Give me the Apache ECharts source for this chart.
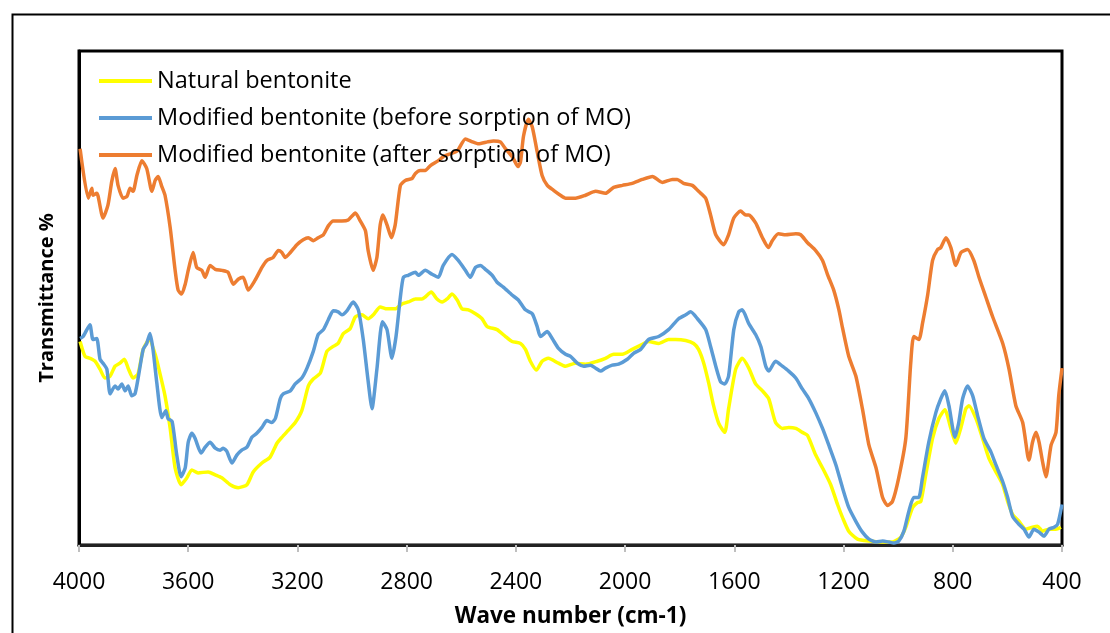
<!DOCTYPE html>
<html>
<head>
<meta charset="utf-8">
<script src="https://cdn.jsdelivr.net/npm/echarts@6/dist/echarts.min.js"></script>
<style>
html,body{margin:0;padding:0;background:#fff;}
#chart{width:1110px;height:633px;}
</style>
</head>
<body>
<div id="chart"></div>
<script>
// Series names
const seriesNames = ["Natural bentonite", "Modified bentonite (before sorption of MO)", "Modified bentonite (after sorption of MO)"];
const xTicks = [4000, 3600, 3200, 2800, 2400, 2000, 1600, 1200, 800, 400];

// Natural bentonite: wavenumber (cm-1) and transmittance (arb. %)
const natWn = [3996,3978,3960,3941,3923,3905,3886,3868,3850,3834,3820,3802,3784,3765,3743,3721,3703,3685,3666,3648,3626,3605,3587,3564,3527,3501,3477,3446,3417,3385,3362,3330,3300,3275,3257,3234,3208,3184,3160,3142,3116,3092,3069,3051,3032,3007,2988,2964,2941,2922,2897,2872,2842,2817,2794,2768,2744,2732,2710,2689,2670,2652,2634,2615,2597,2574,2548,2524,2505,2469,2438,2414,2383,2365,2347,2325,2304,2281,2244,2218,2182,2145,2102,2072,2042,2010,1974,1937,1914,1877,1841,1815,1778,1749,1731,1712,1694,1676,1657,1635,1621,1595,1571,1547,1522,1497,1474,1449,1424,1401,1375,1351,1332,1302,1277,1247,1222,1204,1181,1149,1107,1057,1021,990,972,947,929,917,899,874,851,829,807,789,770,752,741,715,691,668,642,617,599,581,558,532,508,490,471,448,422,404];
const natT = [41.2,38.2,37.8,37.2,35.6,33.8,34.2,36.2,36.8,37.6,35.8,33.8,34.6,39.6,41.6,38.6,34.6,30.2,23.6,15.6,12.2,13.6,15.2,14.6,14.8,14.2,13.6,12.2,11.6,12.2,14.8,16.6,17.8,20.6,21.8,23.2,24.8,27.2,32.2,33.6,34.8,39.2,40.2,40.8,42.8,43.8,46.2,46.6,45.8,46.6,48.2,47.8,47.8,48.8,49.2,49.8,49.8,50.2,51.2,49.8,49.2,49.8,50.8,49.6,47.8,47.6,46.8,45.8,44.2,43.6,42.2,41.2,40.8,39.6,37.2,35.4,37.2,37.8,36.8,36.2,36.8,36.6,37.2,37.8,38.6,38.6,39.6,40.6,41.2,40.8,41.6,41.6,41.4,40.8,39.6,36.8,32.8,28.2,24.6,22.8,27.6,35.6,37.8,35.8,32.6,31.2,29.6,24.8,23.6,23.8,23.6,22.8,22.2,18.2,15.6,12.2,8.2,5.6,2.8,1.2,0.8,0.6,0.6,1.6,3.6,7.6,8.6,8.8,14.2,21.6,25.6,27.4,23.6,20.6,23.8,27.6,28.2,25.6,21.6,17.6,14.8,12.2,8.8,6.2,4.8,3.2,3.6,3.8,2.8,3.2,3.2,3.6];

// Modified bentonite before sorption of MO
const befWn = [3996,3985,3960,3949,3935,3923,3912,3898,3886,3868,3857,3843,3831,3820,3807,3795,3784,3765,3752,3740,3729,3715,3697,3682,3674,3659,3642,3626,3611,3600,3587,3575,3553,3538,3520,3501,3483,3472,3459,3440,3422,3404,3385,3367,3349,3330,3312,3294,3281,3263,3252,3226,3208,3184,3165,3142,3124,3105,3087,3069,3051,3037,3019,2996,2977,2959,2942,2927,2909,2889,2872,2854,2839,2823,2812,2794,2768,2757,2732,2707,2684,2666,2634,2611,2585,2567,2548,2530,2512,2487,2469,2446,2414,2391,2365,2340,2322,2310,2285,2267,2244,2218,2200,2175,2152,2127,2108,2090,2072,2047,2024,1992,1969,1943,1914,1877,1841,1804,1778,1760,1735,1705,1687,1668,1650,1635,1621,1602,1584,1571,1547,1522,1503,1485,1474,1449,1424,1401,1375,1351,1327,1302,1277,1254,1228,1204,1181,1155,1131,1107,1081,1057,1034,1016,998,979,961,943,925,911,888,862,844,829,814,792,778,764,746,727,709,686,660,642,617,599,581,558,539,521,503,484,466,448,429,416,400];
const befT = [41.8,42.2,44.6,41.6,41.8,37.6,36.8,35.6,30.6,32.2,31.6,32.6,31.2,32.2,30.2,30.6,33.6,39.6,40.8,42.8,39.6,32.8,25.8,27.2,25.6,25.0,18.2,13.8,15.6,20.8,22.6,21.6,18.6,19.8,20.8,19.6,19.2,19.6,19.0,16.6,18.2,19.2,19.8,21.8,22.6,23.8,25.2,24.8,25.6,29.6,30.6,31.2,32.6,33.8,35.8,39.2,42.6,43.6,45.6,47.4,47.2,46.6,47.4,49.2,47.6,41.6,33.6,27.6,35.6,45.2,43.6,37.8,42.2,50.2,54.2,54.6,55.2,54.6,55.6,54.8,54.2,56.6,58.8,57.6,55.6,54.2,56.2,56.6,55.8,54.6,53.2,52.2,50.6,49.6,47.6,46.8,44.2,42.2,43.2,41.8,39.8,38.6,38.2,36.8,36.2,36.4,35.8,35.2,35.8,36.4,36.6,37.6,38.8,39.6,41.6,42.2,43.6,45.8,46.6,47.2,45.8,43.6,40.2,36.2,33.0,32.6,34.2,43.6,47.2,47.6,44.8,42.6,40.2,36.2,35.2,37.2,36.2,35.2,33.8,31.6,29.6,26.8,23.6,20.2,16.2,11.6,7.6,4.8,2.6,1.2,0.6,0.8,0.6,0.4,0.8,2.8,6.8,9.6,9.6,13.6,20.8,26.8,29.6,31.2,28.2,21.8,24.8,29.6,32.2,30.2,26.2,21.6,18.8,16.2,12.8,9.6,5.8,4.2,3.2,1.6,3.2,2.6,1.8,3.2,3.6,4.2,8.2];

// Modified bentonite after sorption of MO
const aftWn = [3996,3966,3953,3949,3935,3930,3912,3894,3880,3868,3857,3839,3824,3813,3802,3788,3770,3752,3733,3721,3710,3697,3685,3666,3648,3637,3624,3611,3600,3582,3569,3550,3538,3520,3501,3477,3454,3435,3417,3399,3380,3355,3330,3312,3289,3270,3257,3245,3226,3202,3179,3160,3142,3124,3105,3087,3069,3037,3014,2988,2970,2951,2941,2923,2909,2897,2887,2872,2856,2842,2823,2805,2780,2768,2750,2732,2713,2684,2666,2640,2614,2585,2559,2537,2504,2482,2457,2438,2413,2392,2383,2372,2354,2340,2322,2304,2285,2262,2237,2218,2182,2145,2108,2072,2042,2010,1974,1937,1900,1864,1827,1809,1786,1754,1731,1705,1687,1668,1639,1621,1602,1577,1558,1547,1522,1497,1475,1461,1439,1412,1375,1357,1332,1302,1277,1259,1236,1217,1204,1181,1155,1131,1107,1081,1057,1039,1021,998,972,954,943,924,911,892,874,856,844,825,807,789,770,746,723,704,679,654,617,594,569,544,526,521,508,495,484,471,459,440,422,412,400];
const aftT = [80.2,70.2,72.2,70.8,71.2,70.6,66.2,68.8,73.6,76.2,72.8,70.2,70.6,72.2,71.6,74.8,77.8,76.2,71.6,73.8,74.6,72.6,70.8,64.2,55.6,51.6,50.8,52.8,55.6,59.2,56.2,55.6,54.2,56.6,55.8,55.6,55.2,52.8,53.8,54.2,51.6,53.6,56.2,57.6,58.2,59.6,59.2,58.2,59.2,60.8,61.8,62.2,61.6,62.2,62.8,64.6,65.6,65.6,65.8,67.2,65.6,63.6,59.6,55.6,58.2,64.8,66.8,64.8,62.2,64.8,72.8,73.8,74.2,75.2,75.8,75.8,76.8,77.8,78.6,79.2,79.8,82.2,81.6,81.2,81.6,81.8,81.6,80.2,78.6,76.6,77.6,82.8,86.2,84.6,79.6,74.8,72.8,71.8,70.8,70.2,70.2,70.8,71.6,71.2,72.4,72.8,73.2,74.0,74.6,73.4,74.0,74.0,73.2,72.8,71.6,70.2,66.8,62.8,60.8,62.8,66.2,67.6,66.8,66.8,65.2,62.2,60.2,61.6,63.0,62.8,63.0,62.8,61.2,59.6,57.6,54.8,51.6,47.6,44.0,38.2,34.2,27.6,20.2,15.6,9.6,8.0,8.8,13.6,21.6,36.8,42.2,41.6,44.8,50.6,57.6,59.8,60.2,62.2,60.2,56.6,59.2,59.8,57.6,54.2,50.2,46.2,40.8,35.6,28.2,24.8,18.2,17.2,20.8,22.8,20.8,16.8,13.8,20.2,22.8,30.2,35.8];

const zip = (a, b) => a.map((w, i) => [w, b[i]]);
const colors = ["#FFFF00", "#5B9BD5", "#ED7D31"];
const font = "'Open Sans', 'Liberation Sans', sans-serif";

const chart = echarts.init(document.getElementById('chart'), null, {renderer: 'canvas'});
chart.setOption({
  animation: false,
  backgroundColor: '#fff',
  graphic: [{
    type: 'rect', left: 10, top: 12, z: 100, silent: true,
    shape: {x: 0, y: 0, width: 1200, height: 700},
    style: {fill: 'none', stroke: '#000', lineWidth: 2}
  }],
  grid: {left: 79, right: 48, top: 51, bottom: 82, show: true, borderColor: '#000', borderWidth: 3, backgroundColor: 'transparent'},
  legend: {
    orient: 'vertical', left: 99, top: 67, padding: 0, itemWidth: 53, itemHeight: 4, itemGap: 9,
    icon: 'rect',
    textStyle: {fontFamily: font, fontSize: 23.5, color: '#000', lineHeight: 28},
    data: seriesNames
  },
  xAxis: {
    type: 'value', inverse: true, min: 400, max: 4000, interval: 400,
    name: 'Wave number (cm-1)', nameLocation: 'middle', nameGap: 60,
    nameTextStyle: {fontFamily: font, fontSize: 22.5, fontWeight: 'bold', color: '#000'},
    axisLine: {show: true, lineStyle: {color: '#222', width: 3}},
    axisTick: {show: true, length: 7, lineStyle: {color: '#bfbfbf', width: 2}},
    axisLabel: {fontFamily: font, fontSize: 23, color: '#000', margin: 26, formatter: v => String(v)},
    splitLine: {show: false}
  },
  yAxis: {
    type: 'value', min: 0, max: 100,
    name: 'Transmittance %', nameLocation: 'middle', nameGap: 22,
    nameTextStyle: {fontFamily: font, fontSize: 20, fontWeight: 'bold', color: '#000'},
    axisLine: {show: true, lineStyle: {color: '#000', width: 3}},
    axisTick: {show: false}, axisLabel: {show: false}, splitLine: {show: false}
  },
  series: [
    {name: seriesNames[0], data: zip(natWn, natT)},
    {name: seriesNames[1], data: zip(befWn, befT)},
    {name: seriesNames[2], data: zip(aftWn, aftT)}
  ].map((s, i) => Object.assign(s, {
    type: 'line', showSymbol: false, smooth: 0.2, color: colors[i],
    lineStyle: {width: 3.5, color: colors[i]}, itemStyle: {color: colors[i]}
  }))
});
</script>
</body>
</html>
